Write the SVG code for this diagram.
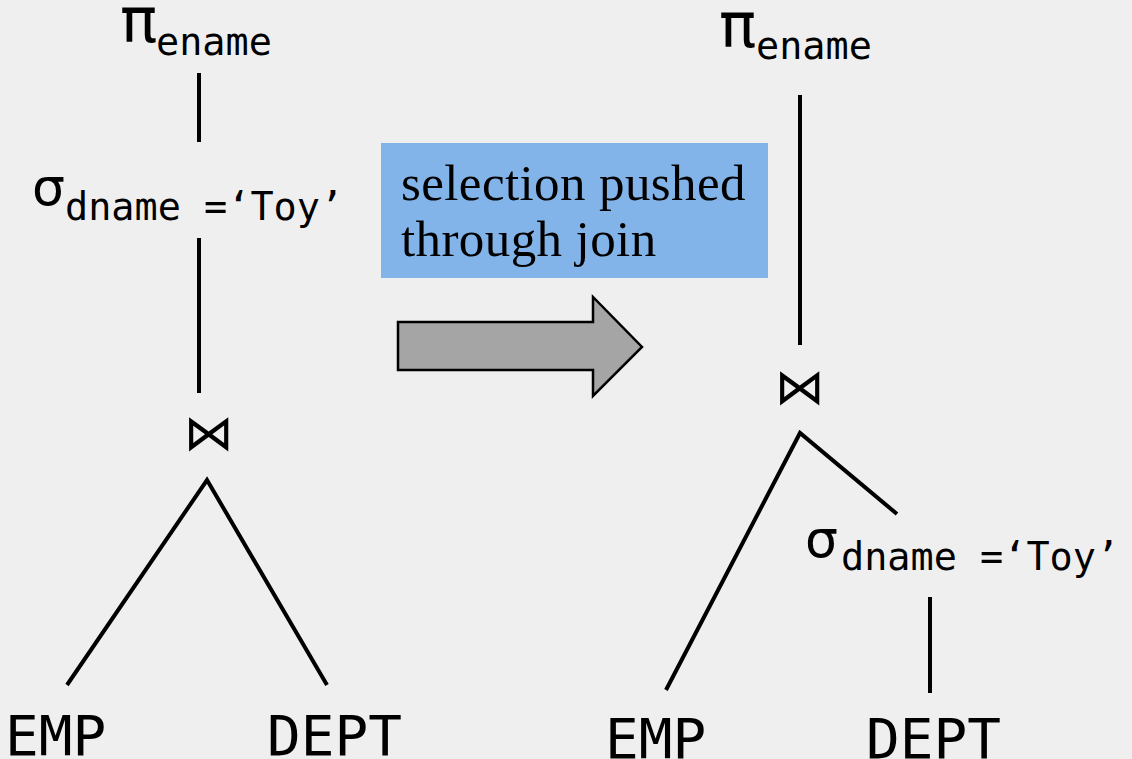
<svg xmlns="http://www.w3.org/2000/svg" width="1132" height="759" viewBox="0 0 1132 759">
  <style>
    .op { font-family: "DejaVu Sans", "Liberation Sans", sans-serif; fill: #000; }
    .pi { font-size: 62px; }
    .sig { font-size: 52px; }
    .join { font-size: 50px; text-anchor: middle; }
    .sub { font-family: "DejaVu Sans Mono", "Liberation Mono", monospace; font-size: 38.5px; fill: #000; }
    .rel { font-family: "DejaVu Sans Mono", "Liberation Mono", monospace; font-size: 56px; fill: #000; }
    .note { font-family: "Liberation Serif", "DejaVu Serif", serif; font-size: 51px; letter-spacing: 0.4px; fill: #000; }
    .edge { stroke: #000; stroke-width: 4; fill: none; }
  </style>
  <rect width="1132" height="759" fill="#efefef"/>

  <!-- connectors -->
  <g id="connectors">
    <line class="edge" x1="199" y1="73" x2="199" y2="142"/>
    <line class="edge" x1="199" y1="238" x2="199" y2="393"/>
    <polyline class="edge" points="67,685 207,480 327,685"/>
    <line class="edge" x1="800" y1="95" x2="800" y2="345"/>
    <polyline class="edge" points="666,690 800,433 897,514"/>
    <line class="edge" x1="930" y1="597" x2="930" y2="693"/>
  </g>

  <!-- left plan -->
  <g id="left-project">
    <text class="op pi" x="120" y="42">π</text>
    <text class="sub" x="156" y="55">ename</text>
  </g>
  <g id="left-select">
    <text class="op sig" x="32" y="205">σ</text>
    <text class="sub" x="65" y="220" xml:space="preserve">dname =‘Toy’</text>
  </g>
  <g id="left-join">
    <text class="op join" x="209" y="450">⋈</text>
  </g>
  <g id="left-emp">
    <text class="rel" x="5" y="755">EMP</text>
  </g>
  <g id="left-dept">
    <text class="rel" x="267" y="755">DEPT</text>
  </g>

  <!-- rewrite label and arrow -->
  <g id="label">
    <rect x="381" y="143" width="387" height="135" fill="#83b4e9"/>
    <text class="note" x="401" y="200">selection pushed</text>
    <text class="note" x="401" y="256">through join</text>
  </g>
  <g id="arrow">
    <polygon points="398,322 593,322 593,297 642,347 593,396 593,370 398,370" fill="#a5a5a5" stroke="#000" stroke-width="2.5" stroke-linejoin="miter"/>
  </g>

  <!-- right plan -->
  <g id="right-project">
    <text class="op pi" x="719" y="47">π</text>
    <text class="sub" x="756" y="59">ename</text>
  </g>
  <g id="right-join">
    <text class="op join" x="800" y="404">⋈</text>
  </g>
  <g id="right-select">
    <text class="op sig" x="805" y="557">σ</text>
    <text class="sub" x="841" y="570" xml:space="preserve">dname =‘Toy’</text>
  </g>
  <g id="right-emp">
    <text class="rel" x="605" y="758">EMP</text>
  </g>
  <g id="right-dept">
    <text class="rel" x="866" y="758">DEPT</text>
  </g>
</svg>
